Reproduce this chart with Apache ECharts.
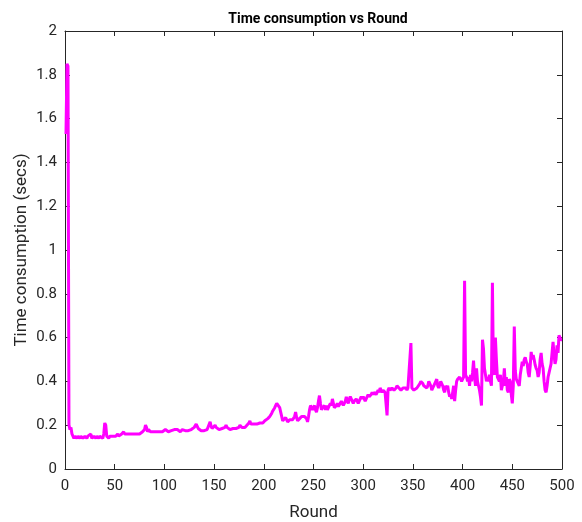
<!DOCTYPE html>
<html>
<head>
<meta charset="utf-8">
<script src="https://cdn.jsdelivr.net/npm/echarts@6/dist/echarts.min.js"></script>
<style>
  html, body { margin: 0; padding: 0; background: #fff; }
  #chart { width: 582px; height: 522px; }
</style>
</head>
<body>
<div id="chart"></div>
<script>
// time consumption (secs) per round, 100 rounds per list
const time1to100 = [
  1.53, 1.85, 1.84, 0.20, 0.18, 0.19, 0.16, 0.15, 0.14, 0.15,
  0.15, 0.14, 0.15, 0.15, 0.14, 0.15, 0.15, 0.14, 0.14, 0.15,
  0.15, 0.14, 0.15, 0.15, 0.15, 0.16, 0.14, 0.14, 0.15, 0.15,
  0.14, 0.15, 0.15, 0.14, 0.15, 0.15, 0.15, 0.14, 0.16, 0.21,
  0.20, 0.15, 0.15, 0.14, 0.15, 0.15, 0.15, 0.15, 0.15, 0.15,
  0.15, 0.15, 0.16, 0.15, 0.15, 0.15, 0.16, 0.16, 0.17, 0.16,
  0.16, 0.16, 0.16, 0.155, 0.16, 0.16, 0.16, 0.16, 0.16, 0.16,
  0.165, 0.16, 0.16, 0.165, 0.16, 0.165, 0.16, 0.17, 0.17, 0.18,
  0.20, 0.19, 0.17, 0.18, 0.185, 0.17, 0.165, 0.17, 0.17, 0.165,
  0.17, 0.17, 0.17, 0.165, 0.17, 0.17, 0.17, 0.17, 0.17, 0.175
]
const time101to200 = [
  0.18, 0.185, 0.18, 0.17, 0.17, 0.17, 0.175, 0.17, 0.175, 0.18,
  0.18, 0.185, 0.18, 0.175, 0.175, 0.17, 0.175, 0.18, 0.175, 0.18,
  0.175, 0.18, 0.18, 0.175, 0.18, 0.18, 0.18, 0.185, 0.18, 0.19,
  0.19, 0.205, 0.20, 0.185, 0.18, 0.18, 0.175, 0.18, 0.18, 0.175,
  0.18, 0.18, 0.18, 0.18, 0.185, 0.215, 0.195, 0.185, 0.185, 0.185,
  0.20, 0.19, 0.185, 0.185, 0.18, 0.185, 0.185, 0.185, 0.18, 0.185,
  0.19, 0.20, 0.19, 0.185, 0.185, 0.18, 0.185, 0.185, 0.185, 0.18,
  0.185, 0.185, 0.185, 0.185, 0.19, 0.20, 0.195, 0.19, 0.19, 0.19,
  0.19, 0.195, 0.20, 0.20, 0.21, 0.22, 0.205, 0.20, 0.20, 0.205,
  0.205, 0.21, 0.205, 0.21, 0.205, 0.21, 0.21, 0.205, 0.21, 0.21
]
const time201to300 = [
  0.22, 0.215, 0.22, 0.23, 0.225, 0.24, 0.245, 0.255, 0.265, 0.27,
  0.28, 0.29, 0.30, 0.305, 0.30, 0.28, 0.26, 0.24, 0.22, 0.215,
  0.215, 0.235, 0.24, 0.215, 0.22, 0.225, 0.23, 0.225, 0.225, 0.23,
  0.24, 0.26, 0.235, 0.22, 0.225, 0.23, 0.23, 0.24, 0.235, 0.24,
  0.24, 0.24, 0.23, 0.215, 0.24, 0.27, 0.29, 0.28, 0.27, 0.28,
  0.29, 0.27, 0.26, 0.28, 0.31, 0.335, 0.30, 0.27, 0.28, 0.28,
  0.29, 0.27, 0.29, 0.27, 0.27, 0.29, 0.30, 0.29, 0.32, 0.30,
  0.28, 0.28, 0.29, 0.30, 0.285, 0.29, 0.30, 0.31, 0.30, 0.29,
  0.30, 0.31, 0.33, 0.31, 0.30, 0.32, 0.33, 0.335, 0.31, 0.30,
  0.31, 0.31, 0.32, 0.31, 0.30, 0.31, 0.32, 0.33, 0.32, 0.33
]
const time301to400 = [
  0.32, 0.31, 0.32, 0.33, 0.34, 0.33, 0.33, 0.34, 0.35, 0.34,
  0.35, 0.35, 0.34, 0.35, 0.36, 0.35, 0.37, 0.36, 0.35, 0.36,
  0.36, 0.35, 0.35, 0.245, 0.36, 0.37, 0.36, 0.36, 0.37, 0.365,
  0.36, 0.365, 0.37, 0.38, 0.375, 0.37, 0.37, 0.36, 0.365, 0.37,
  0.37, 0.365, 0.37, 0.36, 0.37, 0.37, 0.37, 0.575, 0.37, 0.365,
  0.36, 0.355, 0.365, 0.37, 0.37, 0.375, 0.39, 0.40, 0.395, 0.39,
  0.38, 0.385, 0.385, 0.37, 0.38, 0.40, 0.39, 0.38, 0.36, 0.37,
  0.38, 0.39, 0.395, 0.41, 0.38, 0.37, 0.37, 0.40, 0.39, 0.38,
  0.36, 0.35, 0.38, 0.37, 0.38, 0.35, 0.33, 0.34, 0.32, 0.35,
  0.38, 0.31, 0.36, 0.40, 0.41, 0.415, 0.42, 0.41, 0.40, 0.41
]
const time401to500 = [
  0.42, 0.86, 0.43, 0.42, 0.40, 0.42, 0.38, 0.43, 0.40, 0.44,
  0.495, 0.42, 0.38, 0.46, 0.40, 0.38, 0.36, 0.33, 0.29, 0.59,
  0.55, 0.46, 0.43, 0.40, 0.42, 0.40, 0.43, 0.40, 0.38, 0.85,
  0.45, 0.43, 0.60, 0.50, 0.42, 0.41, 0.40, 0.43, 0.36, 0.38,
  0.40, 0.46, 0.38, 0.42, 0.36, 0.35, 0.41, 0.40, 0.34, 0.30,
  0.38, 0.65, 0.45, 0.41, 0.40, 0.39, 0.38, 0.43, 0.46, 0.49,
  0.47, 0.50, 0.51, 0.49, 0.48, 0.44, 0.42, 0.47, 0.535, 0.50,
  0.52, 0.50, 0.475, 0.46, 0.45, 0.42, 0.44, 0.50, 0.53, 0.48,
  0.46, 0.40, 0.36, 0.35, 0.38, 0.42, 0.44, 0.46, 0.48, 0.53,
  0.58, 0.52, 0.48, 0.50, 0.565, 0.53, 0.61, 0.60, 0.59, 0.59
]

const timeAll = [].concat(time1to100, time101to200, time201to300, time301to400, time401to500)
const points = timeAll.map((v, i) => [i + 1, v])

const axisColor = '#262626'
const font = 'Roboto, Arial, sans-serif'

const boxAxis = {
  axisLine: { show: true, onZero: false, lineStyle: { color: axisColor, width: 1 } },
  axisTick: { show: true, inside: true, length: 5, lineStyle: { color: axisColor } },
  splitLine: { show: false }
}

const myChart = echarts.init(document.getElementById('chart'))
myChart.setOption({
  animation: false,
  backgroundColor: '#fff',
  title: {
    text: 'Time consumption vs Round',
    left: 313,
    top: 7,
    textAlign: 'center',
    textStyle: { fontFamily: font, fontSize: 14, fontWeight: 'bold', color: '#000' }
  },
  grid: { left: 65, right: 20, top: 31, bottom: 53, outerBoundsMode: 'none' },
  xAxis: [
    Object.assign({}, boxAxis, {
      type: 'value',
      min: 0,
      max: 500,
      interval: 50,
      name: 'Round',
      nameLocation: 'middle',
      nameGap: 35,
      nameTextStyle: { fontFamily: font, fontSize: 17, color: axisColor },
      axisLabel: { fontFamily: font, fontSize: 15, color: axisColor, margin: 10 }
    }),
    Object.assign({}, boxAxis, {
      type: 'value',
      position: 'top',
      min: 0,
      max: 500,
      interval: 50,
      axisLabel: { show: false }
    })
  ],
  yAxis: [
    Object.assign({}, boxAxis, {
      type: 'value',
      min: 0,
      max: 2,
      interval: 0.2,
      name: 'Time consumption (secs)',
      nameLocation: 'middle',
      nameMoveOverlap: false,
      nameGap: 35,
      nameTextStyle: { fontFamily: font, fontSize: 17, color: axisColor },
      axisLabel: { fontFamily: font, fontSize: 15, color: axisColor, margin: 8 }
    }),
    Object.assign({}, boxAxis, {
      type: 'value',
      position: 'right',
      min: 0,
      max: 2,
      interval: 0.2,
      axisLabel: { show: false }
    })
  ],
  series: [
    {
      type: 'line',
      xAxisIndex: 0,
      yAxisIndex: 0,
      showSymbol: false,
      lineStyle: { color: '#ff00ff', width: 3 },
      itemStyle: { color: '#ff00ff' },
      data: points
    }
  ]
})
</script>
</body>
</html>
